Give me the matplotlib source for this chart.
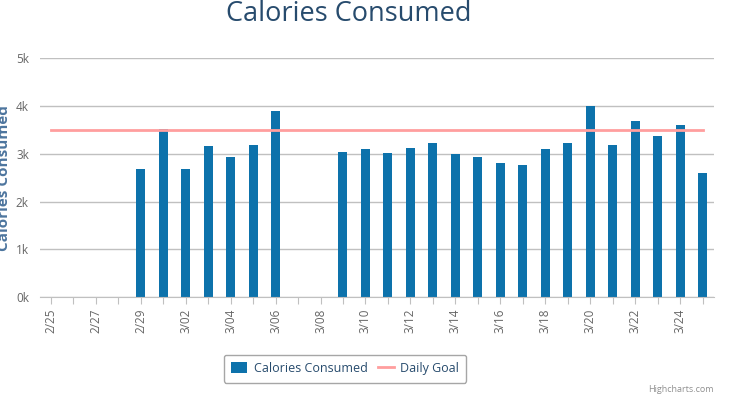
import matplotlib
matplotlib.use("Agg")
import matplotlib.pyplot as plt
import numpy as np
import pandas as pd

# data (2016, leap year)
dates = pd.date_range("2016-02-25", "2016-03-25", freq="D")
calories = [
    None, None, None, None,          # 2/25 - 2/28
    2690, 3515, 2690, 3170, 2940,    # 2/29 - 3/04
    3190, 3900, None, None,          # 3/05 - 3/08
    3040, 3100, 3020, 3120, 3230,    # 3/09 - 3/13
    3000, 2940, 2810, 2770, 3100,    # 3/14 - 3/18
    3230, 4000, 3190, 3690, 3380,    # 3/19 - 3/23
    3610, 2600                       # 3/24 - 3/25
]
daily_goal = [3500] * len(dates)

bar_color = "#0d72ab"
goal_color = "#ff9e9e"
title_color = "#274b6d"
label_color = "#4d759e"
tick_color = "#666666"
grid_color = "#c0c0c0"

plt.rcParams["font.family"] = ["Open Sans", "DejaVu Sans"]

fig = plt.figure(figsize=(7.37, 4.04), dpi=100)
ax = fig.add_axes([40 / 737, (404 - 297.3) / 404, 674 / 737, 239.3 / 404])

bar_dates = [d for d, c in zip(dates, calories) if c is not None]
bar_vals = [c for c in calories if c is not None]

bars = ax.bar(bar_dates, bar_vals, width=0.4, color=bar_color, zorder=2,
              label="Calories Consumed")
goal_line, = ax.plot(dates, daily_goal, color=goal_color, linewidth=2,
                     zorder=3, label="Daily Goal")

ax.set_ylim(0, 5000)
ax.set_xlim(dates[0] - pd.Timedelta(days=0.475), dates[-1] + pd.Timedelta(days=0.5))

yt = np.arange(0, 5001, 1000)
ax.set_yticks(yt)
ax.set_yticklabels([f"{int(v / 1000)}k" for v in yt])
ax.yaxis.grid(True, color=grid_color, linewidth=1, zorder=0)
ax.tick_params(axis="y", length=0, labelsize=8.5, labelcolor=tick_color, pad=8)

ax.set_xticks(dates)
ax.set_xticklabels([d.strftime("%-m/%d") if i % 2 == 0 else ""
                    for i, d in enumerate(dates)])
ax.tick_params(axis="x", length=5, color=grid_color, labelsize=8.5,
               labelcolor=tick_color, rotation=90, pad=3)

for s in ["top", "right", "left"]:
    ax.spines[s].set_visible(False)
ax.spines["bottom"].set_color(grid_color)

fig.text(348.5 / 737, 1 - 14 / 404, "Calories Consumed", ha="center",
         va="center", fontsize=19.5, color=title_color)
fig.text(4 / 737, 0.5 + (202 - 177.6) / 404, "Calories Consumed", rotation=90,
         ha="center", va="center", fontsize=11, fontweight="bold",
         color=label_color)

leg = fig.legend([bars, goal_line], ["Calories Consumed", "Daily Goal"],
                 loc="center", bbox_to_anchor=(345 / 737, 1 - 368.5 / 404),
                 ncol=2, frameon=True, fontsize=9, handlelength=1.3,
                 handleheight=1.0, columnspacing=0.8, handletextpad=0.5,
                 borderpad=0.6, fancybox=True)
leg.get_frame().set_edgecolor("#909090")
leg.get_frame().set_linewidth(1)
for t in leg.get_texts():
    t.set_color(title_color)

fig.text(714 / 737, 1 - 390 / 404, "Highcharts.com", ha="right", va="center",
         fontsize=6.5, color="#909090")

fig.savefig("out.png", dpi=100)
